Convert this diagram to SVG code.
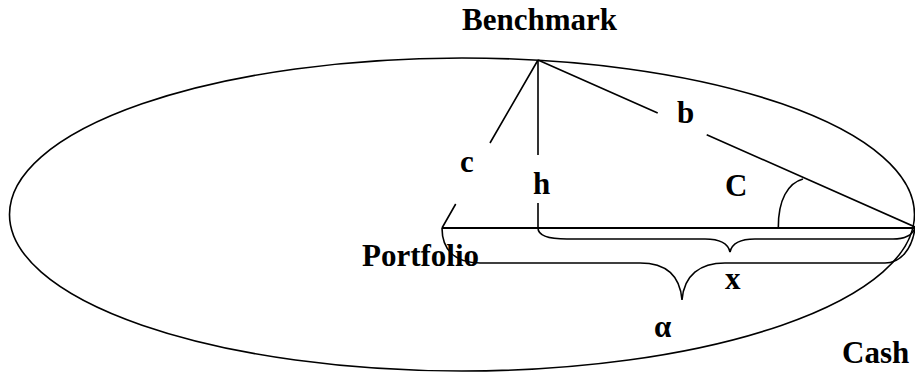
<svg xmlns="http://www.w3.org/2000/svg" width="915" height="372" viewBox="0 0 915 372">
<style>
.ln{fill:none;stroke:#000;stroke-width:1.6}
.t{font-family:"Liberation Serif","Times New Roman",serif;font-weight:bold;font-size:31px;fill:#000}
</style>
<rect width="915" height="372" fill="#fff"/>
<g id="ellipse"><ellipse class="ln" cx="462" cy="214.5" rx="452.5" ry="156.5"/></g>
<g id="benchmark"><text class="t" x="462" y="30">Benchmark</text></g>
<g id="portfolio"><text class="t" x="362" y="266">Portfolio</text></g>
<g id="cash"><text class="t" x="842" y="363">Cash</text></g>
<g id="connectors">
<path class="ln" d="M538,60 L490,143 M455.7,204 L442,228"/>
<path class="ln" d="M538,60 V155 M538,203 V228"/>
<path class="ln" d="M538,60 L657.7,113 M706.7,134.7 L915,227"/>
<path class="ln" style="stroke-width:2" d="M442,228 H915"/>
<path class="ln" d="M538,228 C538,236 548,239 567,239 H705 C720,239 728,243 730,252 C732,243 740,239 755,239 H893 C905,239 912,236 915,228"/>
<path class="ln" d="M442,228 C442,250 455,263 480,263 H640 C665,263 680,275 682,300 C684,275 700,263 725,263 H885 C900,263 912,250 915,228"/>
<path class="ln" d="M778.3,228 C778,200 788,183 803,179"/>
</g>
<g id="labels">
<text class="t" x="460" y="172">c</text>
<text class="t" x="533" y="194">h</text>
<text class="t" x="677" y="123">b</text>
<text class="t" x="725" y="196">C</text>
<text class="t" x="725" y="289">x</text>
<text class="t" x="654" y="337">α</text>
</g>
</svg>
